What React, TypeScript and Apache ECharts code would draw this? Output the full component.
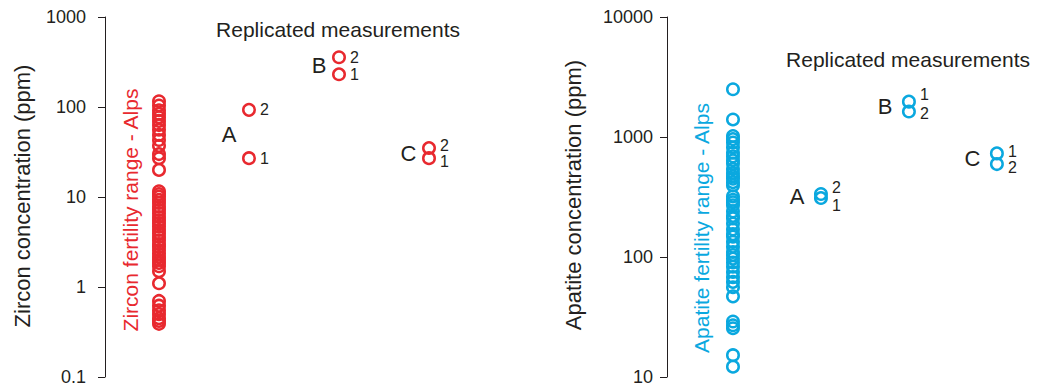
import React, { useEffect, useRef } from "react";
import * as echarts from "echarts";

// ---- data ----
const groups = ["A", "B", "C"];
const zirconRange = [
  116, 104, 92, 84, 77, 70, 63, 56, 49, 43, 37, 30, 27, 20,
  11.6, 10.8, 10.1, 9.3, 8.6, 7.8, 7.2, 6.6, 6.0, 5.5, 5.1, 4.7, 4.3, 3.95,
  3.6, 3.3, 3.0, 2.8, 2.55, 2.35, 2.15, 2.0, 1.85, 1.7, 1.5, 1.1,
  0.7, 0.62, 0.55, 0.5, 0.45, 0.42, 0.39,
];
const zirconRep1 = [27, 231, 27];
const zirconRep2 = [93, 357, 35];
const apatiteRange = [
  2500, 1400, 1020, 960, 900, 820, 740, 690, 640, 600, 540, 500, 470, 450,
  420, 395, 320, 300, 285, 270, 240, 220, 210, 190, 170, 155, 148, 134, 122,
  110, 104, 97, 90, 83, 75, 68, 62, 56, 47, 29, 27, 25.5, 15.2, 12.2,
];
const apatiteRep1 = [310, 1970, 730];
const apatiteRep2 = [335, 1630, 595];
const zirconTicks = ["0.1", "1", "10", "100", "1000"];
const apatiteTicks = ["10", "100", "1000", "10000"];

// ---- styles ----
const RED = "#e8292f";
const BLUE = "#0aa8df";
const INK = "#231f20";
const FONT = "'Liberation Sans', Arial, Helvetica, sans-serif";

// label vertical offsets [rep1, rep2] per group
const zirconOffsets = [[0, 0], [0, 0], [3, -3]];
const apatiteOffsets = [[7, -6], [-7, 2], [-2, 3]];

function yAxis(gridIndex: number, min: number, max: number, margin: number) {
  return {
    type: "log",
    logBase: 10,
    gridIndex,
    min,
    max,
    position: "left",
    axisLine: { show: true, onZero: false, lineStyle: { color: INK, width: 1 } },
    axisTick: { show: true, inside: false, length: 7, lineStyle: { color: INK, width: 1 } },
    minorTick: { show: false },
    splitLine: { show: false },
    axisLabel: {
      margin,
      color: INK,
      fontSize: 18,
      fontFamily: FONT,
      formatter: (v: number) => String(+Number(v).toPrecision(6)),
    },
  };
}

const circleStyle = (color: string) => ({
  color: "rgba(0,0,0,0)",
  borderColor: color,
  borderWidth: 2.5,
  opacity: 1,
});

function rangeSeries(idx: number, values: number[], color: string) {
  return {
    type: "scatter",
    xAxisIndex: idx,
    yAxisIndex: idx,
    symbol: "circle",
    symbolSize: 11.5,
    itemStyle: circleStyle(color),
    data: values.map((v) => [0, v]),
    silent: true,
  };
}

function repSeries(
  idx: number,
  r1: number[],
  r2: number[],
  color: string,
  offsets: number[][],
  dist: number
) {
  const data: any[] = [];
  groups.forEach((g, i) => {
    data.push({ value: [i + 1, r1[i]], label: { formatter: "1", offset: [0, offsets[i][0]] } });
    data.push({ value: [i + 1, r2[i]], label: { formatter: "2", offset: [0, offsets[i][1]] } });
  });
  return {
    type: "scatter",
    xAxisIndex: idx,
    yAxisIndex: idx,
    symbol: "circle",
    symbolSize: 11.5,
    itemStyle: circleStyle(color),
    label: {
      show: true,
      position: "right",
      distance: dist,
      color: INK,
      fontSize: 16,
      fontFamily: FONT,
    },
    data,
    silent: true,
  };
}

function letterSeries(idx: number, r1: number[], r2: number[], dist: number) {
  return {
    type: "scatter",
    xAxisIndex: idx,
    yAxisIndex: idx,
    symbol: "circle",
    symbolSize: 1,
    itemStyle: { color: "rgba(0,0,0,0)", opacity: 1 },
    label: {
      show: true,
      position: "left",
      distance: dist,
      color: INK,
      fontSize: 22,
      fontFamily: FONT,
      formatter: (p: any) => p.name,
    },
    data: groups.map((g, i) => ({ name: g, value: [i + 1, Math.sqrt(r1[i] * r2[i])] })),
    silent: true,
  };
}

export default function App() {
  const ref = useRef<HTMLDivElement>(null);
  useEffect(() => {
    if (!ref.current) return;
    const chart = echarts.init(ref.current, undefined, { renderer: "svg" });
    const option: any = {
      animation: false,
      backgroundColor: "#ffffff",
      textStyle: { fontFamily: FONT },
      grid: [
        { left: 105, top: 17, width: 396, height: 360 },
        { left: 667, top: 17, width: 373, height: 360 },
      ],
      xAxis: [
        { type: "value", gridIndex: 0, min: -0.6, max: 3.8, show: false },
        { type: "value", gridIndex: 1, min: -0.75, max: 3.49, show: false },
      ],
      yAxis: [
        yAxis(0, Number(zirconTicks[0]), Number(zirconTicks[zirconTicks.length - 1]), 19),
        yAxis(1, Number(apatiteTicks[0]), Number(apatiteTicks[apatiteTicks.length - 1]), 14),
      ],
      series: [
        rangeSeries(0, zirconRange, RED),
        repSeries(0, zirconRep1, zirconRep2, RED, zirconOffsets, 4),
        letterSeries(0, zirconRep1, zirconRep2, 12),
        rangeSeries(1, apatiteRange, BLUE),
        repSeries(1, apatiteRep1, apatiteRep2, BLUE, apatiteOffsets, 4),
        letterSeries(1, apatiteRep1, apatiteRep2, 16),
      ],
      graphic: [
        {
          type: "text", x: 22, y: 196, rotation: Math.PI / 2,
          style: { text: "Zircon concentration (ppm)", fill: INK, fontSize: 22, fontFamily: FONT, align: "center", verticalAlign: "middle" },
        },
        {
          type: "text", x: 130, y: 210, rotation: Math.PI / 2,
          style: { text: "Zircon fertility range - Alps", fill: RED, fontSize: 21, fontFamily: FONT, align: "center", verticalAlign: "middle" },
        },
        {
          type: "text", x: 338, y: 29,
          style: { text: "Replicated measurements", fill: INK, fontSize: 21, fontFamily: FONT, align: "center", verticalAlign: "middle" },
        },
        {
          type: "text", x: 573, y: 195, rotation: Math.PI / 2,
          style: { text: "Apatite concentration (ppm)", fill: INK, fontSize: 22, fontFamily: FONT, align: "center", verticalAlign: "middle" },
        },
        {
          type: "text", x: 701, y: 228, rotation: Math.PI / 2,
          style: { text: "Apatite fertility range - Alps", fill: BLUE, fontSize: 21, fontFamily: FONT, align: "center", verticalAlign: "middle" },
        },
        {
          type: "text", x: 908, y: 59,
          style: { text: "Replicated measurements", fill: INK, fontSize: 21, fontFamily: FONT, align: "center", verticalAlign: "middle" },
        },
      ],
    };
    chart.setOption(option);
    return () => chart.dispose();
  }, []);
  return (
    <div
      ref={ref}
      style={{ position: "absolute", left: 0, top: 0, width: 1040, height: 390, background: "#fff" }}
    />
  );
}
